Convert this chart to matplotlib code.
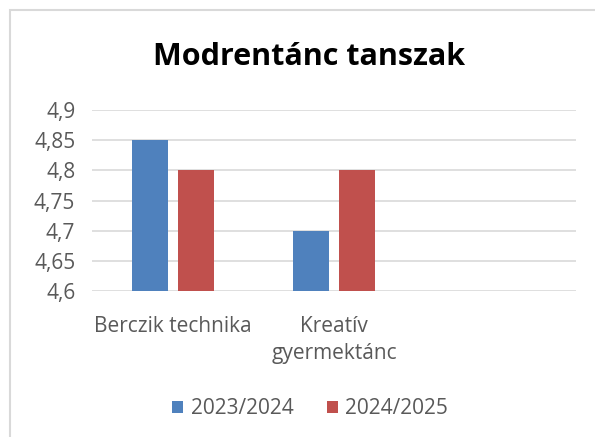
import matplotlib.pyplot as plt
from matplotlib.patches import Rectangle
import numpy as np

categories = ['Berczik technika', 'Kreatív\ngyermektánc', '']
series_names = ['2023/2024', '2024/2025']
val_2324 = [4.85, 4.70, np.nan]
val_2425 = [4.80, 4.80, np.nan]
colors = ['#4f81bd', '#c0504d']

plt.rcParams['font.family'] = ['Open Sans', 'DejaVu Sans']

fig = plt.figure(figsize=(5.95, 4.37), dpi=100)
ax = fig.add_axes([92/595, 1 - 291/437, 484/595, 181/437])

x = np.arange(len(categories))
w = 0.223
gap = 0.062
ax.bar(x - (w + gap)/2, val_2324, width=w, color=colors[0], label=series_names[0], zorder=3)
ax.bar(x + (w + gap)/2, val_2425, width=w, color=colors[1], label=series_names[1], zorder=3)

ax.set_xlim(-0.5, 2.5)
ax.set_ylim(4.6, 4.9)
yt = np.arange(4.6, 4.901, 0.05)
ax.set_yticks(yt)
ax.set_yticklabels([('%g' % round(v, 2)).replace('.', ',') for v in yt])
ax.set_xticks(x)
ax.set_xticklabels(categories, linespacing=1.35)
ax.tick_params(axis='both', length=0, labelsize=15, colors='#595959')
ax.tick_params(axis='y', pad=12)
ax.tick_params(axis='x', pad=18)
ax.grid(axis='y', color='#d9d9d9', linewidth=1.2, zorder=0)
for s in ax.spines.values():
    s.set_visible(False)

fig.text(309/595, 1 - 57/437, 'Modrentánc tanszak', ha='center', va='center',
         fontsize=22, fontweight='bold', color='black')

fig.legend(loc='center', bbox_to_anchor=(310/595, 1 - 409/437), ncol=2, frameon=False,
           fontsize=15, handlelength=0.55, handleheight=0.55, handletextpad=0.35,
           columnspacing=1.6, labelcolor='#595959')

fig.patches.append(Rectangle((9.5/595, -0.1), 1.2, 1 - 10.5/437 + 0.1, transform=fig.transFigure,
                             fill=False, edgecolor='#d9d9d9', linewidth=1.5))

fig.savefig('out.png', dpi=100)
